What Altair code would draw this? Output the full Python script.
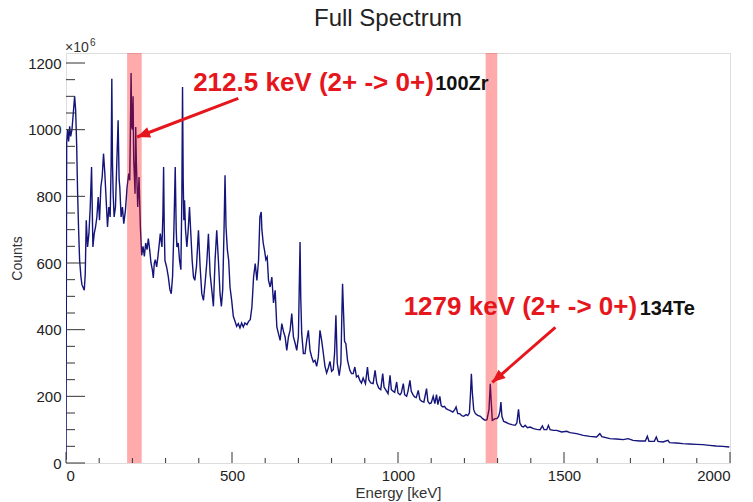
import altair as alt
import pandas as pd

# ---------------- data ----------------
energy = [
    0, 1, 2, 5, 8, 11, 14, 18, 22, 26,
    29, 32, 35, 38, 41, 45, 48, 51, 55, 58,
    61, 65, 69, 73, 77, 81, 85, 89, 93, 97,
    101, 105, 109, 113, 117, 121, 125, 129, 133, 136,
    138, 140, 142, 145, 149, 153, 157, 160, 162, 166,
    170, 174, 179, 184, 189, 192, 194, 196, 198, 200,
    202, 204, 206, 208, 210, 212, 216, 220, 224, 228,
    232, 236, 240, 244, 248, 252, 256, 260, 263, 266,
    269, 273, 277, 281, 284, 289, 292, 294, 296, 298,
    303, 308, 313, 317, 321, 325, 329, 332, 334, 338,
    342, 346, 349, 351, 353, 355, 357, 360, 364, 368,
    372, 376, 380, 384, 388, 393, 399, 404, 409, 414,
    419, 424, 429, 434, 439, 444, 449, 454, 459, 464,
    468, 472, 476, 479, 482, 486, 490, 494, 499, 504,
    509, 514, 519, 524, 529, 534, 539, 545, 550, 555,
    560, 565, 570, 575, 580, 584, 588, 590, 594, 598,
    602, 606, 610, 615, 620, 625, 630, 635, 640, 645,
    650, 655, 660, 665, 670, 675, 680, 685, 690, 695,
    700, 703, 705, 707, 710, 715, 720, 725, 730, 735,
    740, 745, 750, 755, 760, 765, 770, 775, 780, 785,
    790, 795, 800, 805, 809, 813, 817, 823, 828, 831,
    833, 836, 839, 843, 848, 855, 860, 865, 870, 875,
    880, 885, 890, 895, 902, 908, 912, 918, 925, 931,
    936, 942, 948, 954, 958, 964, 970, 976, 980, 986,
    990, 996, 1000, 1006, 1010, 1016, 1020, 1026, 1030, 1036,
    1040, 1045, 1050, 1055, 1061, 1066, 1072, 1078, 1086, 1090,
    1095, 1100, 1106, 1111, 1116, 1120, 1126, 1130, 1135, 1140,
    1145, 1150, 1156, 1165, 1171, 1175, 1180, 1186, 1192, 1198,
    1205, 1210, 1215, 1218, 1221, 1224, 1228, 1233, 1240, 1248,
    1255, 1262, 1268, 1274, 1278, 1281, 1284, 1288, 1292, 1298,
    1303, 1307, 1310, 1313, 1318, 1323, 1333, 1343, 1353, 1358,
    1363, 1367, 1373, 1378, 1383, 1390, 1398, 1408, 1418, 1428,
    1435, 1440, 1448, 1453, 1458, 1468, 1478, 1493, 1508, 1518,
    1538, 1558, 1578, 1598, 1608, 1614, 1638, 1658, 1678, 1693,
    1708, 1728, 1745, 1751, 1756, 1772, 1778, 1783, 1798, 1813,
    1818, 1838, 1858, 1878, 1898, 1918, 1938, 1958, 1978, 1998,
]
counts = [
    10, 500, 960, 1000, 965, 1010, 980, 1000, 1050, 1100,
    1060, 960, 809, 700, 608, 558, 535, 528, 518, 568,
    728, 648, 688, 768, 888, 648, 688, 708, 738, 798,
    728, 828, 858, 928, 868, 788, 708, 768, 738, 900,
    1153, 900, 808, 738, 768, 900, 1028, 850, 828, 738,
    768, 718, 758, 828, 868, 848, 1000, 1170, 1010, 1000,
    1100, 908, 860, 808, 1008, 900, 768, 858, 708, 623,
    650, 620, 660, 640, 673, 640, 600, 580, 555, 600,
    610, 588, 620, 658, 688, 648, 750, 888, 700, 608,
    588, 560, 520, 508, 560, 700, 888, 700, 648, 660,
    608, 580, 800, 1128, 850, 728, 788, 700, 648, 698,
    768, 688, 608, 558, 548, 590, 698, 588, 508, 488,
    540, 600, 688, 568, 520, 470, 608, 698, 608, 508,
    470, 520, 700, 863, 708, 640, 608, 528, 488, 440,
    425, 410, 418, 405, 420, 408, 420, 415, 425, 430,
    468, 558, 598, 548, 608, 738, 753, 700, 660, 638,
    610, 618, 548, 528, 558, 480, 518, 408, 388, 368,
    418, 395, 378, 338, 378, 398, 448, 378, 360, 338,
    380, 550, 663, 500, 388, 328, 328, 368, 398, 338,
    318, 303, 308, 290, 318, 398, 368, 330, 290, 270,
    285, 305, 275, 280, 330, 443, 300, 262, 300, 450,
    538, 450, 365, 358, 308, 278, 268, 268, 288, 258,
    262, 248, 240, 255, 238, 288, 250, 240, 238, 278,
    240, 225, 220, 268, 228, 218, 208, 263, 220, 215,
    212, 243, 210, 205, 210, 238, 205, 200, 215, 248,
    215, 205, 198, 196, 218, 190, 185, 183, 223, 185,
    178, 180, 200, 178, 205, 175, 200, 172, 168, 170,
    163, 160, 158, 153, 160, 168, 148, 148, 142, 140,
    145, 142, 150, 200, 268, 210, 160, 148, 143, 140,
    133, 128, 130, 160, 238, 180, 128, 130, 133, 133,
    140, 155, 183, 140, 125, 123, 118, 115, 113, 120,
    161, 120, 110, 108, 113, 106, 108, 103, 101, 100,
    111, 100, 100, 113, 100, 98, 98, 93, 95, 91,
    88, 83, 80, 78, 88, 79, 73, 72, 70, 73,
    68, 66, 66, 80, 65, 65, 78, 65, 63, 68,
    61, 60, 58, 57, 56, 55, 53, 51, 50, 48,
]
assert len(energy) == len(counts)

# highlighted gamma lines (energy windows, keV)
band_lo = [184, 1264]
band_hi = [228, 1299]

# annotations
ann_text = ["212.5 keV (2+ -> 0+)", "1279 keV (2+ -> 0+)"]
ann_x = [383, 1017]
ann_y = [1115, 443]
iso_text = ["100Zr", "134Te"]
iso_x = [1112, 1728]
iso_y = [1118, 443]
arrow_x0 = [519, 1474]
arrow_y0 = [1094, 407]
arrow_x1 = [214, 1284]
arrow_y1 = [978, 242]
arrow_angle = [249, 229]

# axis ticks
x_labels = [0, 500, 1000, 1500, 2000]
x_minor = [100, 200, 300, 400, 600, 700, 800, 900, 1100, 1200, 1300, 1400,
           1600, 1700, 1800, 1900]
y_labels = [0, 200, 400, 600, 800, 1000, 1200]
y_minor = [50, 100, 150, 250, 300, 350, 450, 500, 550, 650, 700, 750, 850,
           900, 950, 1050, 1100, 1150]

# ---------------- chart ----------------
W, H = 664, 410
FONT = "Liberation Sans"
RED = "#e6161d"
xs = alt.Scale(domain=[0, 2000], nice=False, zero=False)
ys = alt.Scale(domain=[0, 1230], nice=False, zero=False)
x_axis = alt.Axis(
    values=x_labels, format="d", title="Energy [keV]", ticks=False, domain=False, grid=False,
    labelFont=FONT, labelFontSize=15, labelColor="#222", labelPadding=5,
    titleFont=FONT, titleFontSize=15, titleFontWeight="normal", titleColor="#333",
    titleY=34, titleBaseline="alphabetic")
y_axis = alt.Axis(
    values=y_labels, format="d", title="Counts", ticks=False, domain=False, grid=False,
    labelFont=FONT, labelFontSize=15, labelColor="#222", labelPadding=5,
    titleFont=FONT, titleFontSize=14, titleFontWeight="normal", titleColor="#333",
    titleX=-45, titleBaseline="alphabetic")


def X(field):
    return alt.X(field, scale=xs, axis=x_axis)


def Y(field):
    return alt.Y(field, scale=ys, axis=y_axis)


spec = pd.DataFrame({"E": energy, "C": counts})
bands = pd.DataFrame({"lo": band_lo, "hi": band_hi})
ann = pd.DataFrame({"t": ann_text, "x": ann_x, "y": ann_y})
iso = pd.DataFrame({"t": iso_text, "x": iso_x, "y": iso_y})
arr = pd.DataFrame({"x0": arrow_x0, "y0": arrow_y0, "x1": arrow_x1,
                    "y1": arrow_y1, "a": arrow_angle})

line = alt.Chart(spec).mark_line(color="#14147a", strokeWidth=1.4, clip=True).encode(
    x=X("E:Q"), y=Y("C:Q"))

band = alt.Chart(bands).mark_rect(color="#ff0000", opacity=0.33).encode(
    x=X("lo:Q"), x2="hi:Q", y=alt.value(0), y2=alt.value(H))

ytick_major = alt.Chart(pd.DataFrame({"v": y_labels})).mark_rule(color="#333", strokeWidth=1).encode(
    y=Y("v:Q"), x=alt.value(0), x2=alt.value(19))
ytick_minor = alt.Chart(pd.DataFrame({"v": y_minor})).mark_rule(color="#333", strokeWidth=1).encode(
    y=Y("v:Q"), x=alt.value(0), x2=alt.value(9))
xtick_major = alt.Chart(pd.DataFrame({"v": x_labels})).mark_rule(color="#333", strokeWidth=1).encode(
    x=X("v:Q"), y=alt.value(H), y2=alt.value(H - 11))
xtick_minor = alt.Chart(pd.DataFrame({"v": x_minor})).mark_rule(color="#333", strokeWidth=1).encode(
    x=X("v:Q"), y=alt.value(H), y2=alt.value(H - 5))

arrows = alt.Chart(arr).mark_rule(color=RED, strokeWidth=3).encode(
    x=X("x0:Q"), y=Y("y0:Q"), x2="x1:Q", y2="y1:Q")
heads = alt.Chart(arr).mark_point(
    shape="M0,0L0.42,1L-0.42,1Z", filled=True, color=RED, opacity=1, size=676, strokeWidth=0
).encode(x=X("x1:Q"), y=Y("y1:Q"), angle=alt.Angle("a:Q", scale=None))

ann_layer = alt.Chart(ann).mark_text(
    align="left", baseline="alphabetic", font=FONT, fontSize=26, fontWeight="bold", color=RED
).encode(x=X("x:Q"), y=Y("y:Q"), text="t:N")
iso_layer = alt.Chart(iso).mark_text(
    align="left", baseline="alphabetic", font=FONT, fontSize=20, fontWeight="bold", color="#111"
).encode(x=X("x:Q"), y=Y("y:Q"), text="t:N")

exp_base = alt.Chart(pd.DataFrame({"t": ["\u00d710"]})).mark_text(
    align="left", baseline="alphabetic", font=FONT, fontSize=14, color="#333"
).encode(x=alt.value(-1), y=alt.value(-1), text="t:N")
exp_sup = alt.Chart(pd.DataFrame({"t": ["6"]})).mark_text(
    align="left", baseline="alphabetic", font=FONT, fontSize=10, color="#333"
).encode(x=alt.value(24), y=alt.value(-7), text="t:N")

chart = alt.layer(
    line, band, ytick_major, ytick_minor, xtick_major, xtick_minor,
    arrows, heads, ann_layer, iso_layer, exp_base, exp_sup
).properties(
    width=W, height=H,
    title=alt.TitleParams("Full Spectrum", font=FONT, fontSize=24, fontWeight="normal",
                          color="#222", anchor="middle", dx=-10, offset=7),
    autosize=alt.AutoSizeParams(type="none"),
    padding={"left": 66, "top": 53, "right": 23, "bottom": 39},
).configure_view(stroke="#444", strokeWidth=1.5).configure(background="white")

chart.save("out.html", embed_options={"renderer": "svg", "actions": False})
